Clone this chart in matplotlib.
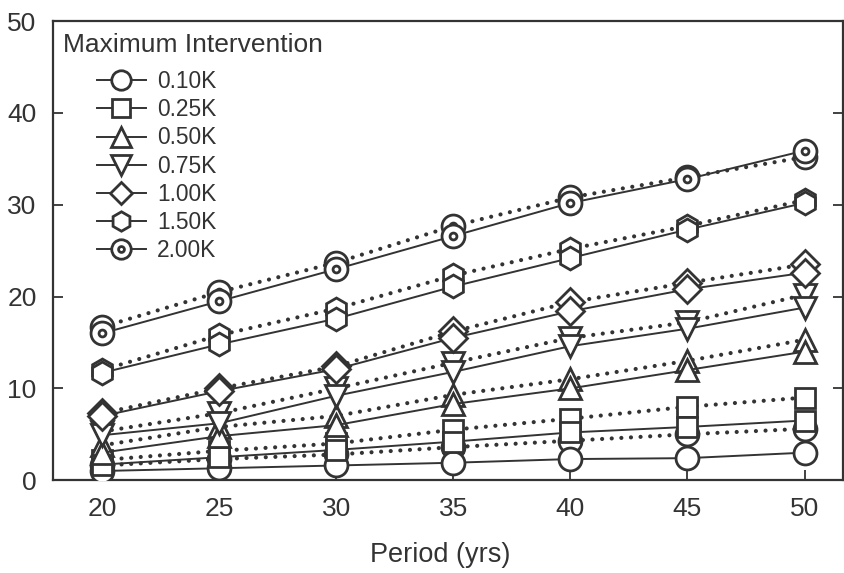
import matplotlib
matplotlib.use('Agg')
import matplotlib.pyplot as plt
from matplotlib.path import Path
from matplotlib.lines import Line2D

# [1] Data
period = [20, 25, 30, 35, 40, 45, 50]
labels = ['0.10K', '0.25K', '0.50K', '0.75K', '1.00K', '1.50K', '2.00K']

# solid line series
solid_010 = [1.0, 1.3, 1.6, 1.9, 2.3, 2.4, 3.0]
solid_025 = [1.7, 2.5, 3.3, 4.2, 5.2, 5.8, 6.5]
solid_050 = [3.0, 4.8, 6.0, 8.3, 10.0, 12.0, 14.0]
solid_075 = [4.9, 6.2, 9.2, 11.8, 14.6, 16.5, 18.8]
solid_100 = [7.0, 9.7, 12.1, 15.5, 18.4, 20.8, 22.6]
solid_150 = [11.7, 14.8, 17.6, 21.1, 24.2, 27.3, 30.2]
solid_200 = [16.0, 19.5, 23.0, 26.6, 30.2, 32.8, 35.9]

# dotted line series
dotted_010 = [1.6, 2.3, 2.8, 3.6, 4.3, 5.0, 5.6]
dotted_025 = [2.2, 3.2, 4.0, 5.5, 6.7, 8.0, 9.0]
dotted_050 = [3.8, 5.8, 7.0, 9.3, 11.0, 13.0, 15.3]
dotted_075 = [5.3, 7.3, 10.0, 12.8, 15.5, 17.2, 20.2]
dotted_100 = [7.3, 10.0, 12.4, 16.2, 19.4, 21.5, 23.5]
dotted_150 = [12.0, 15.8, 18.7, 22.3, 25.2, 27.7, 30.5]
dotted_200 = [16.7, 20.5, 23.7, 27.7, 30.8, 33.0, 35.2]

solid = [solid_010, solid_025, solid_050, solid_075, solid_100, solid_150, solid_200]
dotted = [dotted_010, dotted_025, dotted_050, dotted_075, dotted_100, dotted_150, dotted_200]

# [2] Styles
ink = '#333333'
plt.rcParams['font.family'] = ['Liberation Sans', 'DejaVu Sans']

# circle with a small ring in the middle (for 2.00K)
bullseye = Path.make_compound_path(Path.unit_circle(),
                                   Path(Path.unit_circle().vertices * 0.3, Path.unit_circle().codes))
markers = ['o', 's', '^', 'v', 'D', 'h', bullseye]
msizes = [16.5, 15, 16.5, 16.5, 14, 16.5, 16.5]

fig = plt.figure(figsize=(8.44, 5.73), dpi=100)
ax = fig.add_axes([0.063, 0.162, 0.936, 0.801])

for i in range(len(labels)):
    ax.plot(period, dotted[i], color=ink, lw=3.0, linestyle=(0, (0.01, 2.3)),
            dash_capstyle='round', marker=markers[i], ms=msizes[i],
            mfc='white', mec=ink, mew=2, zorder=2)
    ax.plot(period, solid[i], color=ink, lw=1.4, marker=markers[i], ms=msizes[i],
            mfc='white', mec=ink, mew=2, zorder=3)

# [3] Axes
ax.set_xlim(17.9, 51.65)
ax.set_ylim(0, 50)
ax.set_xticks(period)
ax.set_yticks([0, 10, 20, 30, 40, 50])
ax.tick_params(axis='both', direction='in', length=7, width=1.3, color=ink,
               labelsize=19, labelcolor=ink)
ax.tick_params(axis='y', right=True, pad=12)
ax.tick_params(axis='x', pad=12)
for s in ax.spines.values():
    s.set_color(ink)
    s.set_linewidth(1.6)
ax.set_xlabel('Period (yrs)', fontsize=19.5, color=ink)
ax.xaxis.set_label_coords((440 - 53) / 790, -(555 - 480) / 459)
ax.xaxis.label.set_va('center')

# [4] Legend: title as plain text, entries indented under it
fig.text(63 / 844, 1 - 45 / 573, 'Maximum Intervention', fontsize=19, color=ink,
         ha='left', va='center')
handles = [Line2D([], [], color=ink, lw=1.4, marker=markers[i], ms=msizes[i] - 2.5,
                  mfc='white', mec=ink, mew=2) for i in range(len(labels))]
leg = ax.legend(handles, labels, loc='upper left', bbox_to_anchor=(97 / 844, 1 - 70 / 573),
                bbox_transform=fig.transFigure, frameon=False, fontsize=16.4,
                handlelength=2.15, handletextpad=0.5, labelspacing=0.23,
                borderaxespad=0, borderpad=0)
for t in leg.get_texts():
    t.set_color(ink)

fig.savefig('out.png', dpi=100)
